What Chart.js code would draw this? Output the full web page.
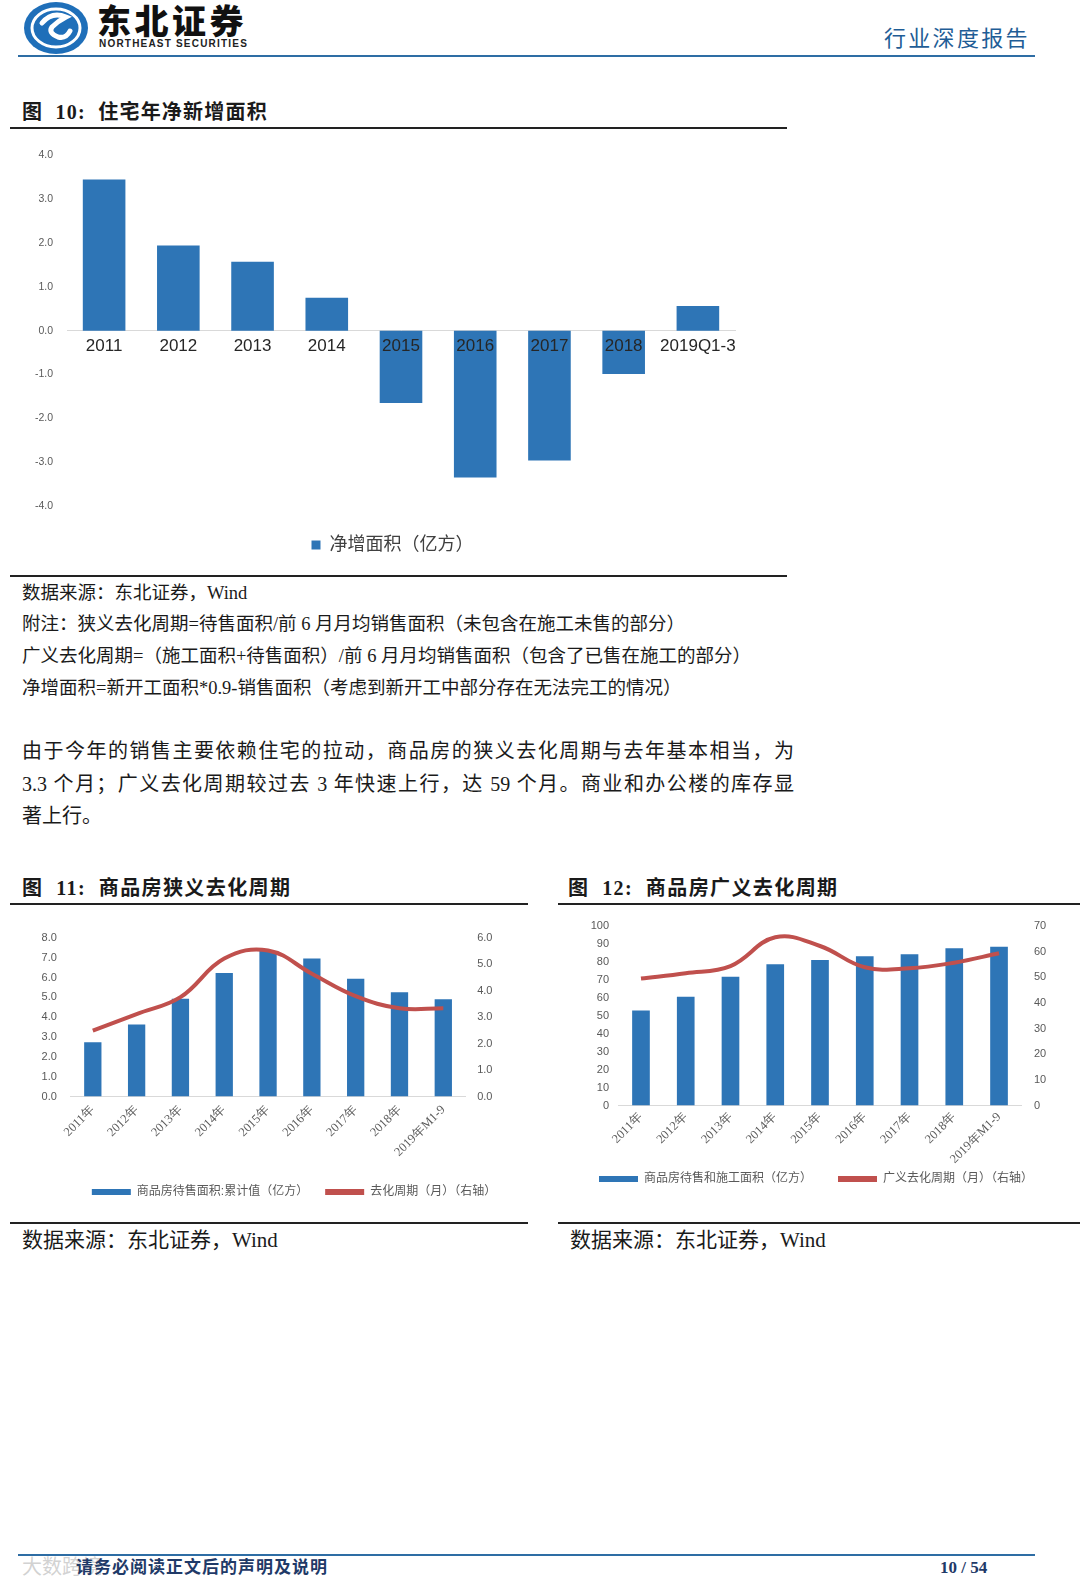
<!DOCTYPE html>
<html>
<head>
<meta charset="utf-8">
<script src="https://cdn.jsdelivr.net/npm/chart.js@4.4.0/dist/chart.umd.min.js"></script>
<style>
  body { margin: 0; background: #fff; }
  #page { position: relative; width: 1080px; height: 1583px; overflow: hidden; background: #fff; }
  .t { position: absolute; white-space: nowrap; font-family: "Liberation Serif", "Noto Sans CJK SC", serif; color: #1a1a1a; }
  .rule { position: absolute; background: #222; }
  canvas { position: absolute; }
</style>
</head>
<body>
<div id="page">
  <!-- header -->
  <svg style="position:absolute;left:22px;top:1px" width="68" height="54">
    <ellipse cx="34" cy="27" rx="32" ry="26" fill="#1f6fb9"/>
    <ellipse cx="34" cy="27" rx="24" ry="19" fill="none" stroke="#fff" stroke-width="3"/>
    <path d="M20 22 Q30 10 44 16 Q36 20 30 26 Q26 32 36 36 Q44 38 48 30" stroke="#fff" stroke-width="5" fill="none" stroke-linecap="round"/>
  </svg>
  <div class="t" style="left:97px;top:1px;font-family:'Noto Sans CJK SC';font-size:34px;line-height:38px;font-weight:900;letter-spacing:3.5px;color:#111">东北证券</div>
  <div class="t" style="left:99px;top:38px;font-family:'Liberation Sans';font-size:10px;line-height:11px;font-weight:bold;letter-spacing:1.2px;color:#222">NORTHEAST SECURITIES</div>
  <div class="t" style="left:884px;top:22px;font-family:'Noto Sans CJK SC';font-size:22px;line-height:28px;letter-spacing:2.3px;color:#1f5d96">行业深度报告</div>
  <div class="rule" style="left:18px;top:55px;width:1017px;height:2px;background:#2e6da4"></div>

  <!-- figure 10 -->
  <div class="t" style="left:22px;top:99px;font-size:20px;line-height:26px;font-weight:bold;letter-spacing:1.2px">图&nbsp;&nbsp;10:&nbsp; 住宅年净新增面积</div>
  <div class="rule" style="left:10px;top:127px;width:777px;height:2px"></div>
  <canvas id="c10" width="760" height="429" style="left:20px;top:135px"></canvas>
  <div class="rule" style="left:10px;top:575px;width:777px;height:1.5px"></div>
  <div class="t" style="left:22px;top:581px;font-size:18.5px;line-height:24px">数据来源：东北证券，Wind</div>
  <div class="t" style="left:22px;top:612px;font-size:18.5px;line-height:24px">附注：狭义去化周期=待售面积/前 6 月月均销售面积（未包含在施工未售的部分）</div>
  <div class="t" style="left:22px;top:644px;font-size:18.5px;line-height:24px">广义去化周期=（施工面积+待售面积）/前 6 月月均销售面积（包含了已售在施工的部分）</div>
  <div class="t" style="left:22px;top:676px;font-size:18.5px;line-height:24px">净增面积=新开工面积*0.9-销售面积（考虑到新开工中部分存在无法完工的情况）</div>

  <div class="t" style="left:22px;top:736px;width:772px;font-size:20px;line-height:30px;text-align:justify;text-align-last:justify">由于今年的销售主要依赖住宅的拉动，商品房的狭义去化周期与去年基本相当，为</div>
  <div class="t" style="left:22px;top:769px;width:772px;font-size:20px;line-height:30px;text-align:justify;text-align-last:justify">3.3 个月；广义去化周期较过去 3 年快速上行，达 59 个月。商业和办公楼的库存显</div>
  <div class="t" style="left:22px;top:801px;font-size:20px;line-height:30px">著上行。</div>

  <!-- figure 11 / 12 -->
  <div class="t" style="left:22px;top:875px;font-size:20px;line-height:26px;font-weight:bold;letter-spacing:1.4px">图&nbsp;&nbsp;11:&nbsp; 商品房狭义去化周期</div>
  <div class="t" style="left:568px;top:875px;font-size:20px;line-height:26px;font-weight:bold;letter-spacing:1.4px">图&nbsp;&nbsp;12:&nbsp; 商品房广义去化周期</div>
  <div class="rule" style="left:10px;top:903px;width:518px;height:2px"></div>
  <div class="rule" style="left:558px;top:903px;width:522px;height:2px"></div>
  <canvas id="c11" width="518" height="303" style="left:10px;top:905px"></canvas>
  <canvas id="c12" width="522" height="290" style="left:558px;top:905px"></canvas>
  <div class="rule" style="left:10px;top:1222px;width:518px;height:1.5px"></div>
  <div class="rule" style="left:558px;top:1222px;width:522px;height:1.5px"></div>
  <div class="t" style="left:22px;top:1227px;font-size:21px;line-height:26px">数据来源：东北证券，Wind</div>
  <div class="t" style="left:570px;top:1227px;font-size:21px;line-height:26px">数据来源：东北证券，Wind</div>

  <!-- footer -->
  <div class="rule" style="left:18px;top:1554px;width:1017px;height:2px;background:#2e6da4"></div>
  <div class="t" style="left:22px;top:1553px;font-family:'Noto Sans CJK SC';font-size:20px;line-height:26px;color:rgba(190,190,190,0.7)">大数跨境</div>
  <div class="t" style="left:76px;top:1557px;font-size:17px;line-height:22px;font-weight:bold;letter-spacing:1px;color:#1f3a68">请务必阅读正文后的声明及说明</div>
  <div class="t" style="left:940px;top:1557px;font-size:17px;line-height:22px;font-weight:bold;color:#1f3a68">10 / 54</div>
</div>

<script>
// figure 10 data
const netCats = ['2011', '2012', '2013', '2014', '2015', '2016', '2017', '2018', '2019Q1-3'];
const netArea = [3.45, 1.94, 1.57, 0.75, -1.65, -3.35, -2.96, -0.99, 0.56];

// figure 11 / 12 data
const yearCats = ['2011年', '2012年', '2013年', '2014年', '2015年', '2016年', '2017年', '2018年', '2019年M1-9'];
const unsoldArea = [2.74, 3.64, 4.94, 6.23, 7.35, 6.97, 5.94, 5.26, 4.91];
const narrowCycle = [2.49, 3.12, 3.76, 5.22, 5.53, 4.65, 3.8, 3.34, 3.34];
const totalArea = [53.0, 60.6, 71.7, 78.7, 81.1, 83.1, 84.3, 87.6, 88.4];
const broadCycle = [49.5, 51.6, 54.4, 65.6, 62.2, 53.9, 53.5, 55.7, 59.4];

const BLUE = '#2e75b6';
const RED = '#c0504d';
const GREY = '#595959';
const CJK = "'Liberation Sans', 'Noto Sans CJK SC', sans-serif";

// flat legend marks (no outline), bar series first
function flatLabels(chart) {
  return Chart.defaults.plugins.legend.labels.generateLabels(chart).map(l => {
    const ds = chart.data.datasets[l.datasetIndex];
    return Object.assign(l, { fillStyle: ds.borderColor, strokeStyle: ds.borderColor, lineWidth: 0 });
  }).reverse();
}

// nudge the legend sideways so it sits where the original one does
const legendShift = {
  id: 'legendShift',
  afterLayout(chart, args, opts) {
    if (chart.legend && opts.dx) {
      chart.legend.left += opts.dx;
      chart.legend.right += opts.dx;
    }
  }
};

// figure 10
new Chart(document.getElementById('c10'), {
  type: 'bar',
  data: {
    labels: netCats,
    datasets: [{
      label: '净增面积（亿方）',
      data: netArea,
      backgroundColor: BLUE,
      borderColor: BLUE,
      categoryPercentage: 1,
      barPercentage: 0.574
    }]
  },
  plugins: [legendShift],
  options: {
    responsive: false,
    animation: false,
    layout: { padding: { left: 0, right: 45, top: 15, bottom: 0 } },
    plugins: {
      tooltip: { enabled: false },
      legendShift: { dx: 15 },
      legend: {
        position: 'bottom',
        labels: {
          boxWidth: 9, boxHeight: 9, padding: 30,
          color: '#404040',
          font: { family: CJK, size: 18 },
          generateLabels: flatLabels
        }
      }
    },
    scales: {
      x: {
        position: { y: 0 },
        grid: { display: false, drawTicks: false },
        border: { color: '#d9d9d9', width: 1 },
        ticks: { z: 1, autoSkip: false, color: '#262626', font: { family: 'Liberation Sans', size: 17 }, padding: 5, maxRotation: 0 },
        afterFit(s) { s.height = 0; }
      },
      y: {
        min: -4, max: 4,
        grid: { display: false, drawTicks: false },
        border: { display: false },
        ticks: { stepSize: 1, padding: 14, color: GREY, font: { family: 'Liberation Sans', size: 10.5 }, callback: v => v.toFixed(1) },
        afterFit(s) { s.width = 47; }
      }
    }
  }
});

// shared setup for the two dual-axis charts
function dualChart(id, barLabel, bars, lineLabel, line, leftMax, leftStep, rightMax, rightStep, decimals, cfg) {
  return new Chart(document.getElementById(id), {
    type: 'bar',
    data: {
      labels: yearCats,
      datasets: [
        {
          type: 'line',
          label: lineLabel,
          data: line,
          yAxisID: 'y1',
          borderColor: RED,
          backgroundColor: RED,
          borderWidth: 4,
          pointRadius: 0,
          tension: 0.4
        },
        {
          label: barLabel,
          data: bars,
          yAxisID: 'y',
          backgroundColor: BLUE,
          borderColor: BLUE,
          categoryPercentage: 1,
          barPercentage: 0.395
        }
      ]
    },
    plugins: [legendShift],
    options: {
      responsive: false,
      animation: false,
      layout: { padding: cfg.pad },
      plugins: {
        tooltip: { enabled: false },
        legendShift: { dx: cfg.dx },
        legend: {
          position: 'bottom',
          labels: {
            boxWidth: 39, boxHeight: 6, padding: cfg.legendPad,
            color: GREY,
            font: { family: CJK, size: 12 },
            generateLabels: flatLabels
          }
        }
      },
      scales: {
        x: {
          grid: { display: false, drawTicks: false },
          border: { color: '#d9d9d9', width: 1 },
          ticks: { autoSkip: false, color: GREY, font: { family: 'Liberation Serif', size: 12.5 }, minRotation: 45, maxRotation: 45, padding: cfg.xTickPad },
          afterFit(s) { s.height = cfg.xHeight; }
        },
        y: {
          position: 'left',
          min: 0, max: leftMax,
          grid: { display: false, drawTicks: false },
          border: { display: false },
          ticks: { stepSize: leftStep, padding: cfg.leftTickPad, color: GREY, font: { family: 'Liberation Sans', size: 11 }, callback: v => v.toFixed(decimals) },
          afterFit(s) { s.width = cfg.leftWidth; }
        },
        y1: {
          position: 'right',
          min: 0, max: rightMax,
          grid: { display: false, drawTicks: false },
          border: { display: false },
          ticks: { stepSize: rightStep, padding: cfg.rightTickPad, color: GREY, font: { family: 'Liberation Sans', size: 11 }, callback: v => v.toFixed(decimals) },
          afterFit(s) { s.width = cfg.rightWidth; }
        }
      }
    }
  });
}

// figure 11
dualChart('c11', '商品房待售面积:累计值（亿方）', unsoldArea, '去化周期（月）（右轴）', narrowCycle,
  8, 1, 6, 1, 1,
  { pad: { left: 0, right: 0, top: 33, bottom: 0 }, legendPad: 17, xHeight: 72.5, xTickPad: 6, dx: 25,
    leftWidth: 60.9, leftTickPad: 14, rightWidth: 62.8, rightTickPad: 12 });

// figure 12
dualChart('c12', '商品房待售和施工面积（亿方）\u3000\u3000', totalArea, '广义去化周期（月）（右轴）', broadCycle,
  100, 10, 70, 10, 0,
  { pad: { left: 0, right: 12, top: 21, bottom: 0 }, legendPad: 8, xHeight: 59.4, xTickPad: 4, dx: 3,
    leftWidth: 60.6, leftTickPad: 9.6, rightWidth: 46.6, rightTickPad: 12.6 });
</script>
</body>
</html>
